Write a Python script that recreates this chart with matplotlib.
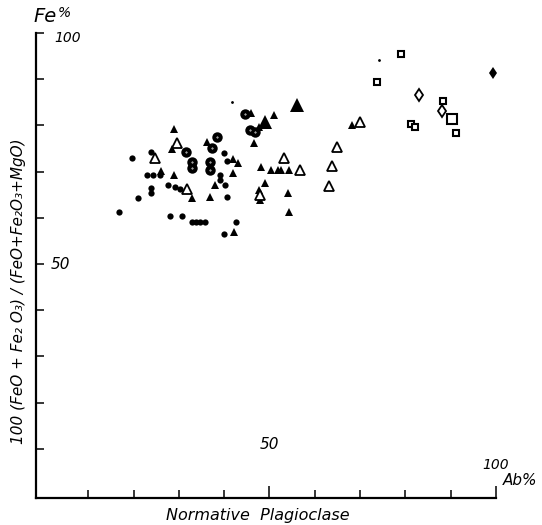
import matplotlib
matplotlib.use("Agg")
import matplotlib.pyplot as plt

# normative plagioclase Ab% (x) vs 100(FeO+Fe2O3)/(FeO+Fe2O3+MgO) (y)
dot_x = [19.6, 23.8, 22.9, 24.2, 25.8, 23.8, 23.8, 27.5, 29.1, 30.2, 20.9, 16.7,
         28.0, 30.8, 32.8, 33.7, 34.6, 35.7, 39.9, 40.7, 39.0, 40.7, 42.7, 39.9,
         39.0, 40.1]
dot_y = [72.9, 74.2, 69.3, 69.3, 69.3, 66.5, 65.4, 67.1, 66.7, 66.2, 64.3, 61.3,
         60.4, 60.4, 59.1, 59.1, 59.1, 59.1, 74.0, 72.3, 69.3, 64.5, 59.1, 56.5,
         68.2, 67.1]

ring_x = [44.5, 45.6, 46.7, 31.5, 38.5, 37.4, 32.8, 33.0, 36.8, 36.8]
ring_y = [82.5, 79.0, 78.6, 74.2, 77.5, 75.1, 72.1, 70.8, 72.1, 70.3]

tri_x = [46.0, 50.9, 47.6, 46.5, 28.9, 28.4, 36.3, 41.9, 43.0, 48.2, 50.4, 51.8,
         52.6, 54.2, 26.0, 28.9, 41.9, 37.9, 49.1, 33.0, 36.8, 54.0, 54.4, 42.1,
         47.6, 48.0, 68.3]
tri_y = [82.7, 82.3, 79.7, 76.2, 79.2, 74.9, 76.4, 72.7, 71.9, 71.0, 70.3, 70.3,
         70.3, 70.3, 70.1, 69.3, 69.7, 67.1, 67.5, 64.3, 64.5, 65.4, 61.3, 56.9,
         66.0, 63.9, 80.1]

big_tri_x = [56.1, 49.1]
big_tri_y = [84.4, 80.7]

open_tri_x = [29.5, 24.7, 31.9, 53.3, 56.8, 48.0, 70.0, 65.0, 63.9, 63.2]
open_tri_y = [76.2, 72.9, 66.2, 72.9, 70.3, 64.9, 80.7, 75.3, 71.2, 66.9]

sq_x = [79.1, 73.8, 88.3, 81.3, 82.2, 91.2]
sq_y = [95.5, 89.4, 85.3, 80.3, 79.7, 78.4]
big_sq_x = [90.3]
big_sq_y = [81.4]

dia_x = [83.0, 88.1]
dia_y = [86.6, 83.1]
fdia_x = [99.3]
fdia_y = [91.3]

speck_x = [74.2, 41.8]
speck_y = [94.2, 85.1]

fig = plt.figure(figsize=(5.42, 5.25), dpi=100)
ax = fig.add_axes([0.0664, 0.0514, 0.8487, 0.8857])

ax.plot(dot_x, dot_y, "o", color="black", ms=4.5, mew=0)
ax.plot(ring_x, ring_y, "o", mfc="black", mec="black", ms=7.5, mew=0)
ax.plot(ring_x, ring_y, ".", color="white", ms=0.8)
ax.plot(tri_x, tri_y, "^", color="black", ms=6.3, mew=0)
ax.plot(big_tri_x, big_tri_y, "^", color="black", ms=9.5, mew=0)
ax.plot(open_tri_x, open_tri_y, "^", mfc="white", mec="black", ms=6.5, mew=1.3)
ax.plot(sq_x, sq_y, "s", mfc="white", mec="black", ms=5, mew=1.5)
ax.plot(big_sq_x, big_sq_y, "s", mfc="white", mec="black", ms=7.5, mew=1.5)
ax.plot(dia_x, dia_y, "d", mfc="white", mec="black", ms=6.5, mew=1.3)
ax.plot(fdia_x, fdia_y, "d", color="black", ms=6.5, mew=0)
ax.plot(speck_x, speck_y, ".", color="black", ms=2)

ax.set_xlim(-1.54, 100)
ax.set_ylim(-0.65, 100)
ax.spines["top"].set_visible(False)
ax.spines["right"].set_visible(False)
ax.spines["left"].set_linewidth(1.6)
ax.spines["bottom"].set_linewidth(1.6)

ax.set_xticks(range(10, 101, 10))
ax.set_yticks(range(10, 101, 10))
ax.set_xticklabels([])
ax.set_yticklabels([])
ax.tick_params(axis="both", direction="in", length=5.5, width=1.1)
for t in ax.xaxis.get_major_ticks():
    if t.get_loc() in (50, 100):
        t.tick1line.set_markersize(8.5)

tf = dict(style="italic", color="black")
ax.text(50, 11, "50", ha="center", va="center", fontsize=11, **tf)
ax.text(100, 6.5, "100", ha="center", va="center", fontsize=10, **tf)
ax.text(101.5, 3.2, "Ab%", ha="left", va="center", fontsize=11, **tf)
ax.text(1.8, 50, "50", ha="left", va="center", fontsize=11, **tf)
ax.text(2.4, 99.0, "100", ha="left", va="center", fontsize=10, **tf)
ax.text(0.4, 103.6, "Fe", ha="center", va="center", fontsize=14, **tf)
ax.text(4.6, 104.3, "%", ha="center", va="center", fontsize=10, **tf)

fig.text(0.476, 0.019, "Normative  Plagioclase", ha="center", va="center",
         fontsize=11.5, **tf)
fig.text(0.035, 0.445, "100 (FeO + Fe₂ O₃) / (FeO+Fe₂O₃+MgO)", rotation=90,
         ha="center", va="center", fontsize=11, **tf)

fig.savefig("out.png", dpi=100)
